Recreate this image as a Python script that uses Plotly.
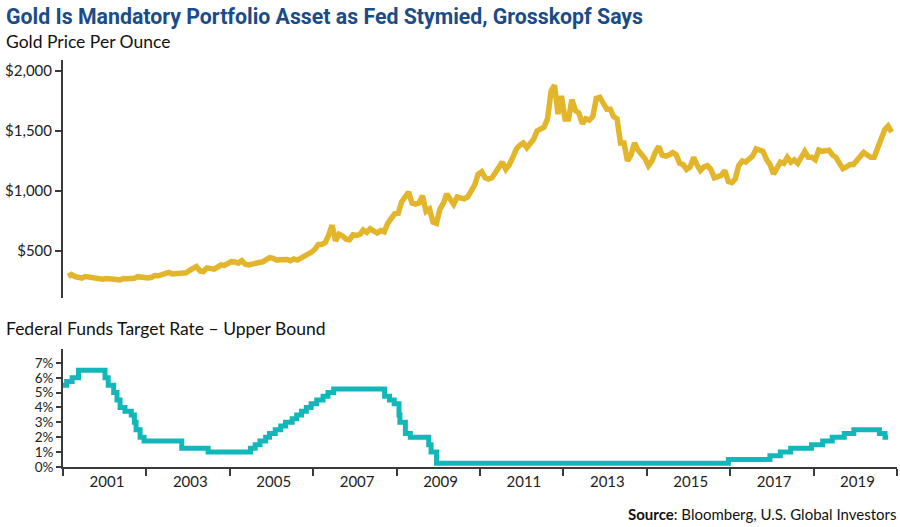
import pandas as pd
import plotly.graph_objects as go

# ---------------- DATA ----------------
gold_start = "2000-01-15"
gold_price = [
    # 2000
    289, 305, 288, 280, 275, 288, 282, 277, 273, 270, 266, 272,
    # 2001
    265, 262, 263, 260, 272, 270, 267, 273, 287, 282, 276, 277,
    # 2002
    282, 296, 294, 304, 316, 322, 310, 310, 320, 317, 319, 340,
    # 2003
    360, 372, 335, 330, 360, 350, 350, 365, 385, 380, 392, 412,
    # 2004
    410, 400, 420, 390, 385, 395, 395, 405, 410, 425, 445, 440,
    # 2005
    425, 428, 435, 430, 420, 435, 425, 440, 465, 470, 490, 515,
    # 2006
    555, 555, 570, 630, 715, 585, 640, 625, 600, 595, 635, 630,
    # 2007
    640, 675, 655, 685, 660, 650, 670, 660, 730, 770, 810, 815,
    # 2008
    910, 950, 990, 900, 890, 900, 960, 830, 850, 740, 730, 850,
    # 2009
    900, 975, 920, 890, 950, 940, 935, 950, 1000, 1050, 1140, 1160,
    # 2010
    1110, 1100, 1110, 1160, 1210, 1240, 1180, 1220, 1280, 1350, 1380, 1400,
    # 2011
    1360, 1390, 1430, 1500, 1510, 1530, 1600, 1830, 1880, 1640, 1790, 1600,
    # 2012
    1600, 1760, 1670, 1650, 1560, 1600, 1590, 1620, 1770, 1780, 1730, 1680,
    # 2013
    1680, 1620, 1600, 1400, 1400, 1250, 1300, 1400, 1340, 1310, 1270, 1210,
    # 2014
    1250, 1320, 1370, 1300, 1290, 1300, 1320, 1300, 1230, 1220, 1180, 1200,
    # 2015
    1280, 1220, 1170, 1200, 1210, 1180, 1110, 1120, 1130, 1170, 1080, 1070,
    # 2016
    1100, 1210, 1250, 1240, 1270, 1290, 1350, 1340, 1330, 1260, 1220, 1140,
    # 2017
    1200, 1240, 1230, 1280, 1240, 1260, 1230, 1290, 1330, 1280, 1280, 1260,
    # 2018
    1340, 1330, 1330, 1340, 1300, 1280, 1230, 1185, 1200, 1220, 1220, 1250,
    # 2019
    1290, 1320, 1300, 1280, 1280, 1350, 1420, 1510, 1540, 1490,
]

rate_dates = [
    "2000-01-01", "2000-02-02", "2000-03-21", "2000-05-16",
    "2001-01-03", "2001-01-31", "2001-03-20", "2001-04-18", "2001-05-15",
    "2001-06-27", "2001-08-21", "2001-09-17", "2001-10-02", "2001-11-06",
    "2001-12-11", "2002-11-06", "2003-06-25", "2004-06-30", "2004-08-10",
    "2004-09-21", "2004-11-10", "2004-12-14", "2005-02-02", "2005-03-22",
    "2005-05-03", "2005-06-30", "2005-08-09", "2005-09-20", "2005-11-01",
    "2005-12-13", "2006-01-31", "2006-03-28", "2006-05-10", "2006-06-29",
    "2007-09-18", "2007-10-31", "2007-12-11", "2008-01-22", "2008-01-30",
    "2008-03-18", "2008-04-30", "2008-10-08", "2008-10-29", "2008-12-16",
    "2015-12-16", "2016-12-14", "2017-03-15", "2017-06-14", "2017-12-13",
    "2018-03-21", "2018-06-13", "2018-09-26", "2018-12-19", "2019-07-31",
    "2019-09-18", "2019-10-15",
]
rate_values = [
    5.5, 5.75, 6.0, 6.5,
    6.0, 5.5, 5.0, 4.5, 4.0,
    3.75, 3.5, 3.0, 2.5, 2.0,
    1.75, 1.25, 1.0, 1.25, 1.5,
    1.75, 2.0, 2.25, 2.5, 2.75,
    3.0, 3.25, 3.5, 3.75, 4.0,
    4.25, 4.5, 4.75, 5.0, 5.25,
    4.75, 4.5, 4.25, 3.5, 3.0,
    2.25, 2.0, 1.5, 1.0, 0.25,
    0.5, 0.75, 1.0, 1.25, 1.5,
    1.75, 2.0, 2.25, 2.5, 2.25,
    2.0, 2.0,
]

gold_ticks = [500, 1000, 1500, 2000]
gold_tick_text = ["$500", "$1,000", "$1,500", "$2,000"]
rate_ticks = [0, 1, 2, 3, 4, 5, 6, 7]
rate_tick_text = ["0%", "1%", "2%", "3%", "4%", "5%", "6%", "7%"]
year_labels = ["2001", "2003", "2005", "2007", "2009", "2011", "2013", "2015", "2017", "2019"]
year_bounds = [str(y) for y in range(2000, 2021, 2)]

# ---------------- FIGURE ----------------
gold_dates = pd.date_range(gold_start, periods=len(gold_price), freq="MS") + pd.Timedelta(days=14)

GOLD = "#E2B52B"
TEAL = "#12B7B9"
AX = "#3a3a3a"
FONT = "Lato"
W, H = 900, 527
S = 0.985  # observed vertical rendering factor


def py(p):
    """paper y for a desired pixel row"""
    return 1 - (p / S) / H


fig = go.Figure()
fig.add_trace(go.Scatter(
    x=gold_dates, y=gold_price, mode="lines",
    line=dict(color=GOLD, width=5.5), xaxis="x", yaxis="y", showlegend=False,
))
fig.add_trace(go.Scatter(
    x=pd.to_datetime(rate_dates), y=rate_values, mode="lines",
    line=dict(color=TEAL, width=5, shape="hv"), xaxis="x2", yaxis="y2", showlegend=False,
))

xr = ["2000-01-01", "2020-01-01"]
fig.update_layout(
    width=W, height=H,
    margin=dict(l=63, r=3, t=0, b=0),
    paper_bgcolor="white", plot_bgcolor="white",
    font=dict(family=FONT, color="#222222"),
    title=dict(
        text="<b>Gold Is Mandatory Portfolio Asset as Fed Stymied, Grosskopf Says</b>",
        xref="container", yref="container", x=6/900, xanchor="left",
        y=1 - 17/527, yanchor="middle",
        font=dict(family="Roboto", size=21.3, color="#1B4C87"),
    ),
    xaxis=dict(
        domain=[0, 1], range=xr, type="date", anchor="y",
        showline=False, showticklabels=False, ticks="", showgrid=False, zeroline=False,
    ),
    yaxis=dict(
        domain=[py(298), py(60)], range=[110, 2090], anchor="x",
        showline=True, linecolor=AX, linewidth=2,
        ticks="outside", ticklen=6, tickcolor=AX, tickwidth=1.5,
        tickvals=gold_ticks, ticktext=gold_tick_text,
        tickfont=dict(size=15, color="#222222"),
        showgrid=False, zeroline=False,
    ),
    xaxis2=dict(
        domain=[0, 1], range=xr, type="date", anchor="y2",
        showline=True, linecolor=AX, linewidth=2,
        tickvals=[y + "-01-20" for y in year_labels], ticktext=year_labels,
        ticks="", tickfont=dict(size=15, color="#222222"),
        minor=dict(tickvals=[y + "-01-01" for y in year_bounds], ticks="outside",
                   ticklen=7, tickcolor=AX, tickwidth=1.5),
        showgrid=False, zeroline=False,
    ),
    yaxis2=dict(
        domain=[py(467), py(349)], range=[0, 7.94], anchor="x2",
        showline=True, linecolor=AX, linewidth=2,
        ticks="outside", ticklen=5, tickcolor=AX, tickwidth=1.5,
        tickvals=rate_ticks, ticktext=rate_tick_text,
        tickfont=dict(size=13.5, color="#222222"),
        showgrid=False, zeroline=False,
    ),
)

fig.add_annotation(
    text="Gold Price Per Ounce", xref="paper", yref="paper",
    x=-59/834, y=py(42), xanchor="left", yanchor="middle", showarrow=False,
    font=dict(family=FONT, size=17.5, color="#111111"),
)
fig.add_annotation(
    text="Federal Funds Target Rate \u2013 Upper Bound", xref="paper", yref="paper",
    x=-59/834, y=py(329), xanchor="left", yanchor="middle", showarrow=False,
    font=dict(family=FONT, size=17.5, color="#111111"),
)
fig.add_annotation(
    text="<b>Source</b>: Bloomberg, U.S. Global Investors", xref="paper", yref="paper",
    x=1 + 1/834, y=py(514), xanchor="right", yanchor="middle", showarrow=False,
    font=dict(family=FONT, size=15, color="#111111"),
)

fig.write_html("out.html")
